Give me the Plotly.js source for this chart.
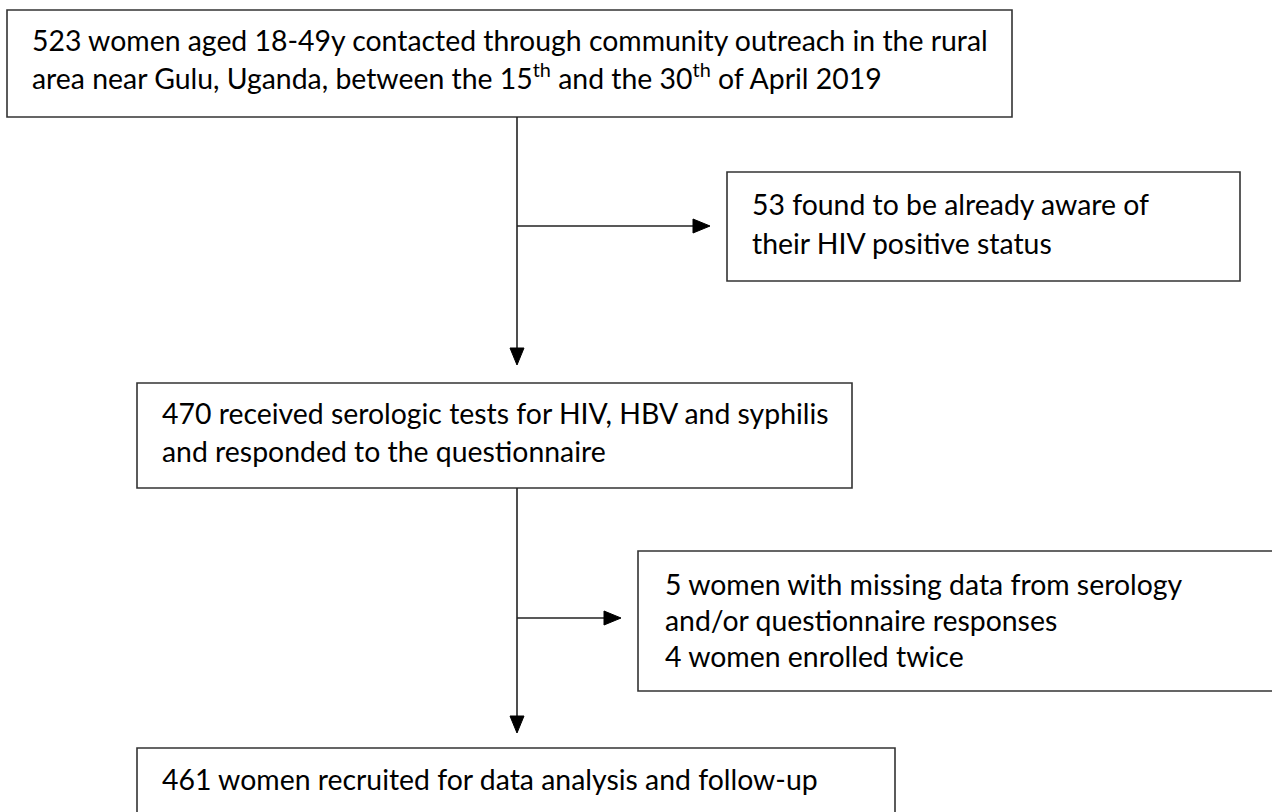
<!DOCTYPE html>
<html>
<head>
<meta charset="utf-8">
<script src="https://cdn.plot.ly/plotly-3.0.1.min.js"></script>
<style>html,body{margin:0;padding:0;background:#fff;}#chart{width:1272px;height:812px;}</style>
</head>
<body>
<div id="chart"></div>
<script>
// ---- data: flow counts and box texts ----
var stepCounts = [523, 53, 470, 9, 461];
var stepIds = ["contacted", "excluded1", "tested", "excluded2", "recruited"];
var boxLines = [
  ["523 women aged 18-49y contacted through community outreach in the rural",
   "area near Gulu, Uganda, between the 15<sup>th</sup> and the 30<sup>th</sup> of April 2019"],
  ["53 found to be already aware of",
   "their HIV positive status"],
  ["470 received serologic tests for HIV, HBV and syphilis",
   "and responded to the questionnaire"],
  ["5 women with missing data from serology",
   "and/or questionnaire responses",
   "4 women enrolled twice"],
  ["461 women recruited for data analysis and follow-up"]
];

// ---- layout geometry (pixels) ----
var boxes = [
  {x0: 7,   x1: 1012, y0: 10,  y1: 117, tx: 30,  ty: [40, 76]},
  {x0: 727, x1: 1240, y0: 172, y1: 281, tx: 750, ty: [204, 243]},
  {x0: 137, x1: 852,  y0: 383, y1: 488, tx: 160, ty: [413, 451]},
  {x0: 638, x1: 1280, y0: 551, y1: 691, tx: 663, ty: [584, 620, 656]},
  {x0: 137, x1: 895,  y0: 748, y1: 830, tx: 160, ty: [779]}
];
var spineX = 517;
var arrows = [
  {x0: spineX, y0: 117, x1: spineX, y1: 365},
  {x0: spineX, y0: 226, x1: 710, y1: 226},
  {x0: spineX, y0: 488, x1: spineX, y1: 733},
  {x0: spineX, y0: 618, x1: 621, y1: 618}
];
var lineColor = "#222222";
var headLen = 17, headHalf = 7;

var shapes = [];
var annotations = [];
boxes.forEach(function (b, i) {
  shapes.push({type: "rect", xref: "x", yref: "y", x0: b.x0, x1: b.x1, y0: b.y0, y1: b.y1,
    line: {color: "#333333", width: 1.6}, fillcolor: "rgba(0,0,0,0)"});
  boxLines[i].forEach(function (t, j) {
    annotations.push({xref: "x", yref: "y", x: b.tx, y: b.ty[j], text: t, showarrow: false,
      xanchor: "left", yanchor: "middle", align: "left",
      font: {family: "Lato, 'Open Sans', sans-serif", size: 28.4, color: "#000000"}});
  });
});
arrows.forEach(function (a) {
  var dx = a.x1 - a.x0, dy = a.y1 - a.y0;
  var L = Math.sqrt(dx * dx + dy * dy), ux = dx / L, uy = dy / L;
  var bx = a.x1 - ux * headLen, by = a.y1 - uy * headLen;
  shapes.push({type: "line", xref: "x", yref: "y", x0: a.x0, y0: a.y0, x1: bx, y1: by,
    line: {color: lineColor, width: 1.6}});
  var p1x = bx - uy * headHalf, p1y = by + ux * headHalf;
  var p2x = bx + uy * headHalf, p2y = by - ux * headHalf;
  shapes.push({type: "path", xref: "x", yref: "y",
    path: "M" + a.x1 + "," + a.y1 + " L" + p1x + "," + p1y + " L" + p2x + "," + p2y + " Z",
    fillcolor: "#000000", line: {color: "#000000", width: 1}});
});

var layout = {
  width: 1272, height: 812,
  margin: {l: 0, r: 0, t: 0, b: 0},
  paper_bgcolor: "#ffffff", plot_bgcolor: "#ffffff",
  xaxis: {range: [0, 1272], visible: false, fixedrange: true},
  yaxis: {range: [812, 0], visible: false, fixedrange: true},
  showlegend: false,
  shapes: shapes,
  annotations: annotations
};
var trace = {x: [spineX], y: [stepCounts[0] * 0], type: "scatter", mode: "markers",
  marker: {opacity: 0}, hoverinfo: "skip", customdata: stepIds};
Plotly.newPlot("chart", [trace], layout, {staticPlot: true});
</script>
</body>
</html>
